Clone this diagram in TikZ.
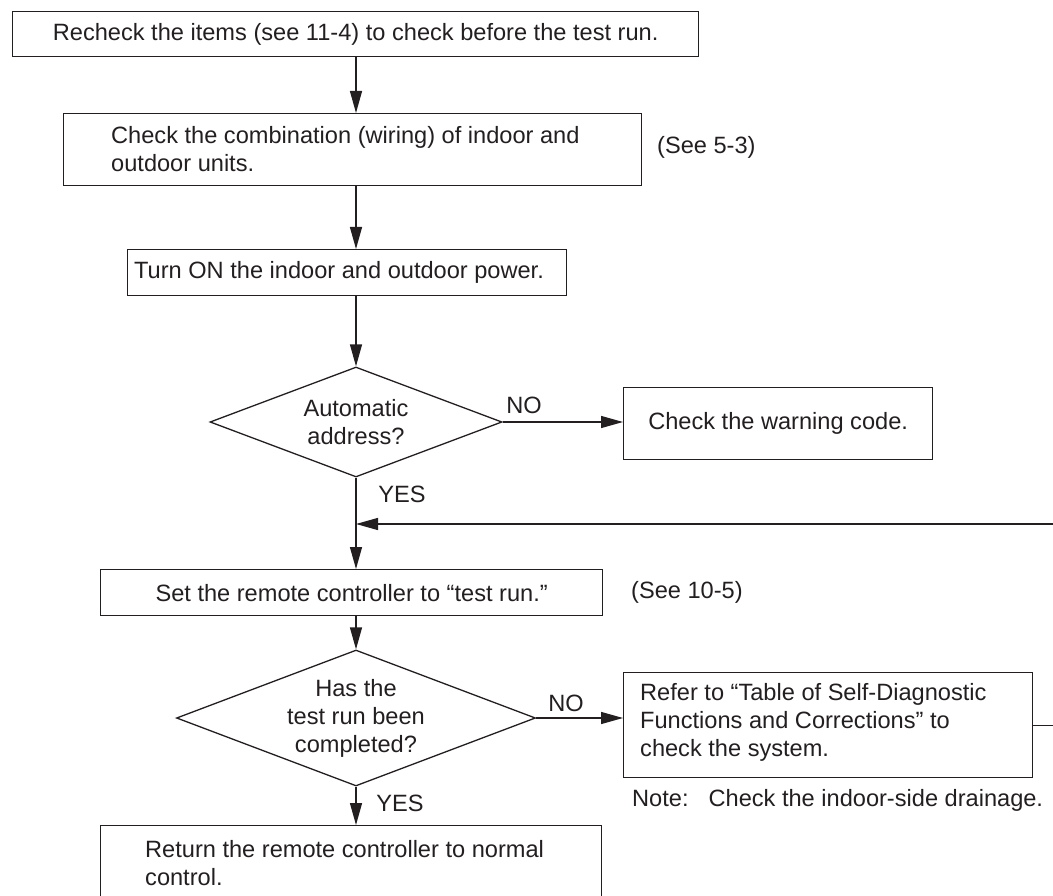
\documentclass[tikz,border=0pt]{standalone}
\usepackage{fontspec}
\setmainfont{Liberation Sans}
\usetikzlibrary{arrows.meta,shapes.geometric}
\definecolor{ink}{HTML}{231F20}
\begin{document}
\begin{tikzpicture}[x=1pt,y=-1pt,
  every node/.style={font=\fontsize{23.6}{28}\selectfont, text=ink},
  box/.style={draw=ink, line width=1.3pt, rectangle, anchor=north west, inner sep=0pt, align=center},
  dia/.style={draw=ink, line width=1.3pt, diamond, inner sep=0pt, align=center},
  txt/.style={anchor=west, inner sep=0pt, align=left},
  lbl/.style={inner sep=0pt},
  arr/.style={draw=ink, line width=1.3pt, -{Triangle[length=22pt,width=12pt]}},
  ln/.style={draw=ink, line width=1.3pt}]
\useasboundingbox (0,0) rectangle (1053,896);
\clip (0,0) rectangle (1053,896);

\node[box, minimum width=686pt, minimum height=45pt] (b1) at (12,11) {Recheck the items (see 11-4) to check before the test run.};
\node[box, minimum width=578pt, minimum height=72pt] (b2) at (63,113) {};
\node[txt] (b2t) at (111,149) {Check the combination (wiring) of indoor and\\outdoor units.};
\node[lbl, anchor=west] (s53) at (657,147) {(See 5-3)};
\node[box, minimum width=439pt, minimum height=46pt] (b3) at (127,249) {};
\node[txt] (b3t) at (134,272) {Turn ON the indoor and outdoor power.};
\node[dia, aspect=2.6545, minimum width=292pt, minimum height=110pt] (d1) at (356,422) {Automatic\\address?};
\node[box, minimum width=309pt, minimum height=72pt] (warn) at (623,387) {Check the warning code.};
\node[lbl] (no1) at (524,405) {NO};
\node[lbl] (yes1) at (402,494) {YES};
\coordinate (fbR) at (1053,524);
\node[box, minimum width=502pt, minimum height=46pt] (set) at (100,569) {Set the remote controller to “test run.”};
\node[lbl, anchor=west] (s105) at (631,592) {(See 10-5)};
\node[dia, aspect=2.64, minimum width=359pt, minimum height=136pt] (d2) at (356,718) {Has the\\test run been\\completed?};
\node[lbl] (no2) at (566,703) {NO};
\node[box, minimum width=409pt, minimum height=105pt] (ref) at (623,672) {};
\node[txt] (reft) at (640,722) {Refer to “Table of Self-Diagnostic\\Functions and Corrections” to\\check the system.};
\node[lbl, anchor=west] (note) at (632,800) {Note:\hspace{20pt}Check the indoor-side drainage.};
\node[lbl] (yes2) at (400,803) {YES};
\node[box, minimum width=501pt, minimum height=100pt] (ret) at (100,825) {};
\node[txt] (rett) at (145,863.5) {Return the remote controller to normal\\control.};

\draw[arr] (b1.south -| d1.north) -- (b2.north -| d1.north);
\draw[arr] (b2.south -| d1.north) -- (b3.north -| d1.north);
\draw[arr] (b3.south -| d1.north) -- (d1.north);
\draw[arr] (d1.east) -- (warn.west |- d1.east);
\draw[arr] (d1.south) -- (set.north -| d1.south);
\draw[arr] (fbR) -- (fbR -| d1.south);
\draw[arr] (set.south -| d2.north) -- (d2.north);
\draw[arr] (d2.east) -- (ref.west |- d2.east);
\draw[ln] (ref.east) -- (ref.east -| fbR);
\draw[arr] (d2.south) -- (ret.north -| d2.south);
\end{tikzpicture}
\end{document}
